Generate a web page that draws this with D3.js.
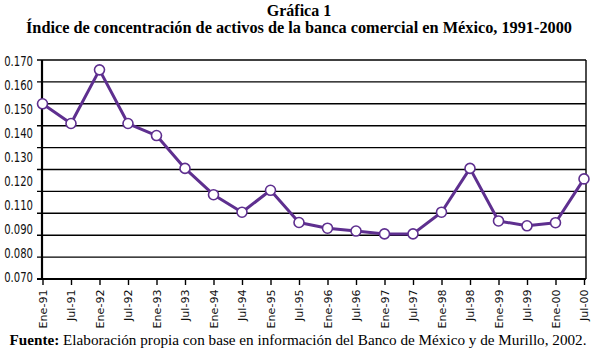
<!DOCTYPE html>
<html><head><meta charset="utf-8">
<script src="https://cdn.jsdelivr.net/npm/d3@7"></script>
<style>body{margin:0;background:#fff}svg{display:block}</style>
</head><body><svg id="c" width="598" height="354"></svg>
<script>
const categories = ["Ene-91","Jul-91","Ene-92","Jul-92","Ene-93","Jul-93","Ene-94","Jul-94","Ene-95","Jul-95","Ene-96","Jul-96","Ene-97","Jul-97","Ene-98","Jul-98","Ene-99","Jul-99","Ene-00","Jul-00"];
const values = [0.150,0.141,0.1655,0.141,0.1355,0.1205,0.1085,0.1005,0.1105,0.0958,0.0932,0.0919,0.0906,0.0906,0.1005,0.1205,0.0965,0.0943,0.0957,0.1157];
const yTickLabels = ["0.170","0.160","0.150","0.140","0.130","0.120","0.110","0.090","0.080","0.070"];
const gridValues = [0.07,0.08,0.09,0.10,0.11,0.12,0.13,0.14,0.15,0.16,0.17];
const title1 = "Gráfica 1";
const title2 = "Índice de concentración de activos de la banca comercial en México, 1991-2000";
const sourceBold = "Fuente:";
const sourceText = " Elaboración propia con base en información del Banco de México y de Murillo, 2002.";

const svg = d3.select("#c");
const L = 42, R = 586, T = 60, B = 279;
const x = d3.scalePoint().domain(categories).range([L + 0.5, R - 2]);
const y = d3.scaleLinear().domain([0.07, 0.17]).range([B, T]);
const yLab = d3.scalePoint().domain(yTickLabels).range([T + 1, B - 2]);
const purple = "#5e2f8f";
const serif = "'Liberation Serif','Times New Roman',serif";
const cond = "'DejaVu Sans Condensed','Liberation Sans Narrow','DejaVu Sans',sans-serif";

svg.append("text").attr("x", 299).attr("y", 16).attr("text-anchor", "middle")
  .attr("font-family", serif).attr("font-weight", "bold").attr("font-size", 16).text(title1);
svg.append("text").attr("x", 299).attr("y", 33).attr("text-anchor", "middle")
  .attr("font-family", serif).attr("font-weight", "bold").attr("font-size", 16.3).text(title2);

// gridlines
svg.append("g").selectAll("line").data(gridValues).join("line")
  .attr("x1", L - 5).attr("x2", R).attr("y1", d => y(d)).attr("y2", d => y(d))
  .attr("stroke", "#000").attr("stroke-width", d => d === 0.07 ? 2 : 1.4);
// right border
svg.append("line").attr("x1", R).attr("x2", R).attr("y1", T).attr("y2", B)
  .attr("stroke", "#000").attr("stroke-width", 1.4);
// left axis
svg.append("line").attr("x1", L).attr("x2", L).attr("y1", T).attr("y2", B + 1)
  .attr("stroke", "#000").attr("stroke-width", 2.2);
// y labels
svg.append("g").selectAll("text").data(yTickLabels).join("text")
  .attr("x", 33).attr("y", d => yLab(d)).attr("dy", "0.36em").attr("text-anchor", "end")
  .attr("font-family", cond).attr("font-size", 14).attr("fill", "#111")
  .attr("transform", d => `translate(33,0) scale(0.8,1) translate(-33,0)`)
  .text(d => d);

// x axis ticks and labels
const xa = d3.axisBottom(x).tickSize(6).tickSizeOuter(0);
const gx = svg.append("g").attr("transform", `translate(0,${B})`).call(xa);
gx.select(".domain").remove();
gx.selectAll(".tick line").attr("stroke", "#000").attr("stroke-width", 1.4);
gx.selectAll(".tick text").attr("font-family", cond).attr("font-size", 13).attr("fill", "#111")
  .attr("transform", "rotate(-90) scale(0.95,0.8)").attr("text-anchor", "end")
  .attr("x", -11).attr("y", 0).attr("dy", "0.36em");

// line
const line = d3.line().x((d, i) => x(categories[i])).y(d => y(d));
svg.append("path").datum(values).attr("d", line).attr("fill", "none")
  .attr("stroke", purple).attr("stroke-width", 3).attr("stroke-linejoin", "round");
svg.append("g").selectAll("circle").data(values).join("circle")
  .attr("cx", (d, i) => x(categories[i])).attr("cy", d => y(d)).attr("r", 5)
  .attr("fill", "#fff").attr("stroke", purple).attr("stroke-width", 1.6);

// source
const src = svg.append("text").attr("x", 298).attr("y", 345).attr("text-anchor", "middle")
  .attr("font-family", serif).attr("font-size", 15.2);
src.append("tspan").attr("font-weight", "bold").text(sourceBold);
src.append("tspan").text(sourceText);
</script></body></html>
